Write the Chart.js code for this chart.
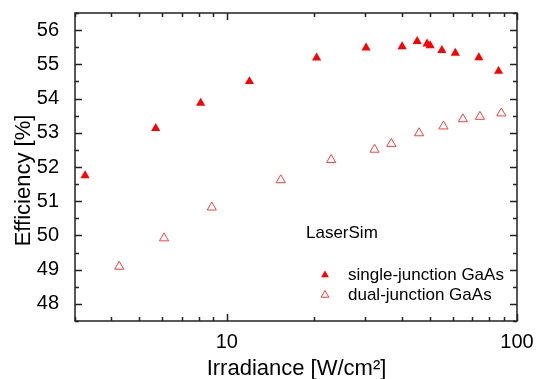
<!DOCTYPE html>
<html>
<head>
<meta charset="utf-8">
<script src="https://cdn.jsdelivr.net/npm/chart.js@4.4.1/dist/chart.umd.min.js"></script>
<style>
  html, body { margin: 0; padding: 0; background: #fff; }
  #wrap { width: 538px; height: 379px; }
</style>
</head>
<body>
<div id="wrap"><canvas id="effChart" width="538" height="379"></canvas></div>
<script>
// single-junction GaAs (filled)
const singleX = [3.25, 5.69, 8.13, 11.97, 20.4, 30.2, 40.2, 45.3, 49.0, 50.2, 55.1, 61.3, 73.9, 86.4];
const singleY = [51.75, 53.13, 53.87, 54.50, 55.19, 55.48, 55.52, 55.67, 55.60, 55.55, 55.41, 55.33, 55.20, 54.80];
// dual-junction GaAs (hollow)
const dualX = [4.26, 6.08, 8.88, 15.35, 22.9, 32.3, 36.9, 46.0, 55.8, 65.1, 74.5, 88.3];
const dualY = [49.09, 49.92, 50.82, 51.62, 52.21, 52.51, 52.68, 52.99, 53.19, 53.40, 53.47, 53.57];

const seriesNames = ['single-junction GaAs', 'dual-junction GaAs'];
const noteText = 'LaserSim';
const xTitle = 'Irradiance [W/cm²]';
const yTitle = 'Efficiency [%]';

const xTickLabels = [10, 100];
const xMinorTicks = [3, 4, 5, 6, 7, 8, 9, 20, 30, 40, 50, 60, 70, 80, 90];
const yTickLabels = [48, 49, 50, 51, 52, 53, 54, 55, 56];
const yMinorTicks = [47.5, 48.5, 49.5, 50.5, 51.5, 52.5, 53.5, 54.5, 55.5, 56.5];

const FONT = "'Liberation Sans', Arial, sans-serif";
const RED = '#ff0000';
const RED_LIGHT = '#ff3c3c';

function toPoints(xs, ys) {
    return xs.map((x, i) => ({ x: x, y: ys[i] }));
}

// frame + inward ticks, titles, legend and note
const frameTicks = {
    id: 'frameTicks',
    afterDraw(chart) {
        const ctx = chart.ctx;
        const a = chart.chartArea;
        const xs = chart.scales.x;
        const ys = chart.scales.y;
        ctx.save();
        ctx.strokeStyle = '#222';
        ctx.lineWidth = 1.5;
        ctx.strokeRect(a.left, a.top, a.right - a.left, a.bottom - a.top);
        ctx.beginPath();
        xTickLabels.concat(xMinorTicks).forEach(v => {
            const len = xTickLabels.includes(v) ? 7 : 4;
            const px = Math.round(xs.getPixelForValue(v)) + 0.5;
            ctx.moveTo(px, a.bottom); ctx.lineTo(px, a.bottom - len);
            ctx.moveTo(px, a.top); ctx.lineTo(px, a.top + len);
        });
        yTickLabels.concat(yMinorTicks).forEach(v => {
            const len = yTickLabels.includes(v) ? 7 : 4;
            const py = Math.round(ys.getPixelForValue(v)) + 0.5;
            ctx.moveTo(a.left, py); ctx.lineTo(a.left + len, py);
            ctx.moveTo(a.right, py); ctx.lineTo(a.right - len, py);
        });
        ctx.stroke();

        // axis titles
        ctx.fillStyle = '#000';
        ctx.font = '22px ' + FONT;
        ctx.textAlign = 'center';
        ctx.textBaseline = 'alphabetic';
        ctx.fillText(xTitle, (a.left + a.right) / 2 + 0.5, 375);
        ctx.save();
        ctx.translate(30, 180.5);
        ctx.rotate(-Math.PI / 2);
        ctx.fillText(yTitle, 0, 0);
        ctx.restore();

        // note + legend
        ctx.font = '17px ' + FONT;
        ctx.textBaseline = 'middle';
        ctx.textAlign = 'left';
        ctx.fillText(noteText, 306, 233);

        const rows = [275, 295];
        chart.data.datasets.forEach((ds, i) => {
            const cx = 325, cy = rows[i], r = 4.5;
            ctx.beginPath();
            for (let k = 0; k < 3; k++) {
                const ang = k * 2 * Math.PI / 3;
                const px = cx + Math.sin(ang) * r, py = cy - Math.cos(ang) * r;
                if (k === 0) ctx.moveTo(px, py); else ctx.lineTo(px, py);
            }
            ctx.closePath();
            if (i === 0) {
                ctx.fillStyle = RED;
                ctx.fill();
            } else {
                ctx.strokeStyle = RED_LIGHT;
                ctx.lineWidth = 1;
                ctx.stroke();
            }
            ctx.fillStyle = '#000';
            ctx.fillText(ds.label, 348, cy);
        });
        ctx.restore();
    }
};

const ctx = document.getElementById('effChart').getContext('2d');
const chart = new Chart(ctx, {
    type: 'scatter',
    data: {
        datasets: [
            {
                label: seriesNames[0],
                data: toPoints(singleX, singleY),
                pointStyle: 'triangle',
                pointRadius: 5.3,
                backgroundColor: RED,
                borderColor: RED,
                borderWidth: 0
            },
            {
                label: seriesNames[1],
                data: toPoints(dualX, dualY),
                pointStyle: 'triangle',
                pointRadius: 5.3,
                backgroundColor: 'rgba(255,255,255,0)',
                borderColor: RED_LIGHT,
                borderWidth: 1
            }
        ]
    },
    options: {
        responsive: false,
        animation: false,
        devicePixelRatio: 1,
        layout: { padding: { top: 13, right: 21, left: 0, bottom: 0 } },
        plugins: {
            legend: { display: false },
            tooltip: { enabled: false }
        },
        scales: {
            x: {
                type: 'logarithmic',
                min: 3,
                max: 100,
                afterBuildTicks: s => { s.ticks = xTickLabels.map(v => ({ value: v })); },
                afterFit: s => { s.height = 58; },
                grid: { display: false },
                border: { display: false },
                ticks: {
                    color: '#000',
                    font: { family: FONT, size: 20 },
                    padding: 1,
                    maxRotation: 0,
                    autoSkip: false,
                    callback: v => String(v)
                }
            },
            y: {
                min: 47.5,
                max: 56.5,
                afterBuildTicks: s => { s.ticks = yTickLabels.map(v => ({ value: v })); },
                afterFit: s => { s.width = 75; s.paddingTop = 0; s.paddingBottom = 0; },
                grid: { display: false },
                border: { display: false },
                ticks: {
                    color: '#000',
                    font: { family: FONT, size: 20 },
                    padding: 8,
                    autoSkip: false,
                    callback: v => String(v)
                }
            }
        }
    },
    plugins: [frameTicks]
});
</script>
</body>
</html>
